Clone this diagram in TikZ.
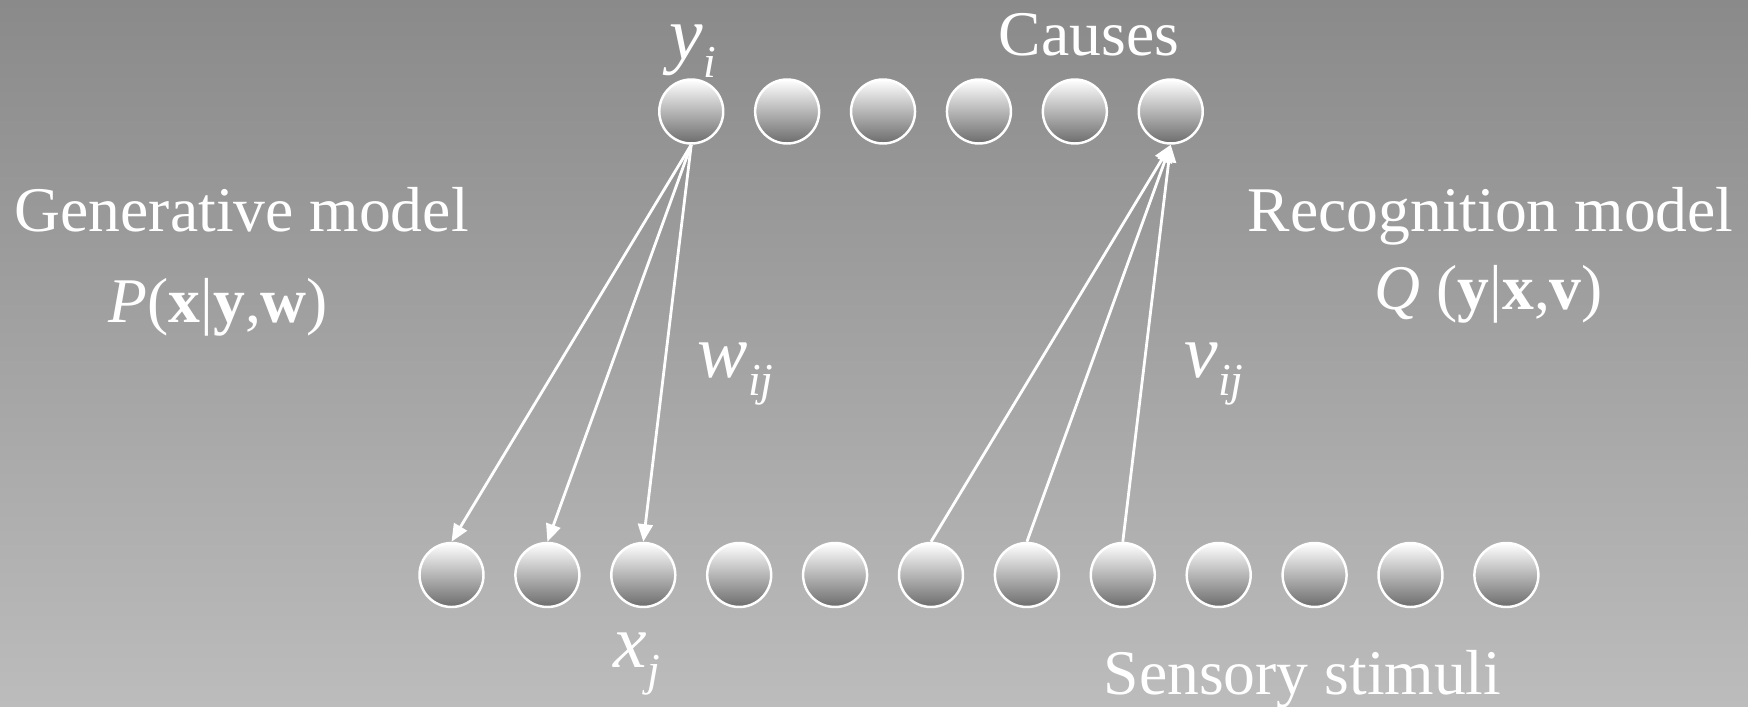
\documentclass[tikz,border=0pt]{standalone}
\usepackage{fontspec}
\setmainfont{Liberation Serif}
\usetikzlibrary{arrows.meta}
\definecolor{bgtop}{RGB}{138,138,138}
\definecolor{bgbot}{RGB}{188,188,188}
\definecolor{unitmid}{RGB}{208,208,208}
\definecolor{unitbot}{RGB}{108,108,108}
\newcommand{\wsym}[2]{{\fontsize{21.5}{24}\selectfont\itshape #1\/\raisebox{-5pt}{\fontsize{13}{15}\selectfont #2}}}
\tikzset{
  unit/.style={circle,draw=white,line width=0.7pt,inner sep=0pt,minimum size=0.64cm,
    top color=white,middle color=unitmid,bottom color=unitbot},
  lbl/.style={text=white,inner sep=0pt,font=\fontsize{18.1}{21}\selectfont},
  link/.style={-{Triangle[length=5pt,width=4.2pt]},white,line width=0.8pt}
}
\begin{document}
\begin{tikzpicture}
  \shade[top color=bgtop,bottom color=bgbot] (0,0) rectangle (17.48,7.07);
  \useasboundingbox (0,0) rectangle (17.48,7.07);
  % causes and sensory stimuli
  \foreach \k in {1,...,6}
    \node[unit] (c\k) at ({6.9125+(\k-1)*0.959},5.955) {};
  \foreach \k in {1,...,12}
    \node[unit] (s\k) at ({4.515+(\k-1)*0.959},1.32) {};
  % generative weights
  \draw[link] (c1.south)--(s1.north);
  \draw[link] (c1.south)--(s2.north);
  \draw[link] (c1.south)--(s3.north);
  % recognition weights
  \draw[link] (s6.north)--(c6.south);
  \draw[link] (s7.north)--(c6.south);
  \draw[link] (s8.north)--(c6.south);
  % labels
  \node[lbl,anchor=base] (causes) at (10.89,6.51) {Causes};
  \node[lbl,anchor=base west] (yi) at (6.69,6.47) {\wsym{y}{i}};
  \node[lbl,anchor=base west] (gen) at (0.14,4.75) {Generative model};
  \node[lbl,anchor=base west] (pgen) at (1.08,3.84) {\textit{P}(\textbf{x}|\textbf{y},\textbf{w})};
  \node[lbl,anchor=base west] (rec) at (12.47,4.75) {Recognition model};
  \node[lbl,anchor=base west] (qrec) at (13.74,3.97) {\textit{Q} (\textbf{y}|\textbf{x},\textbf{v})};
  \node[lbl,anchor=base west] (wij) at (6.97,3.29) {\wsym{w}{ij}};
  \node[lbl,anchor=base west] (vij) at (11.84,3.29) {\wsym{v}{ij}};
  \node[lbl,anchor=base west] (xj) at (6.13,0.39) {\wsym{x}{j}};
  \node[lbl,anchor=base west] (sens) at (11.03,0.12) {Sensory stimuli};
\end{tikzpicture}
\end{document}
